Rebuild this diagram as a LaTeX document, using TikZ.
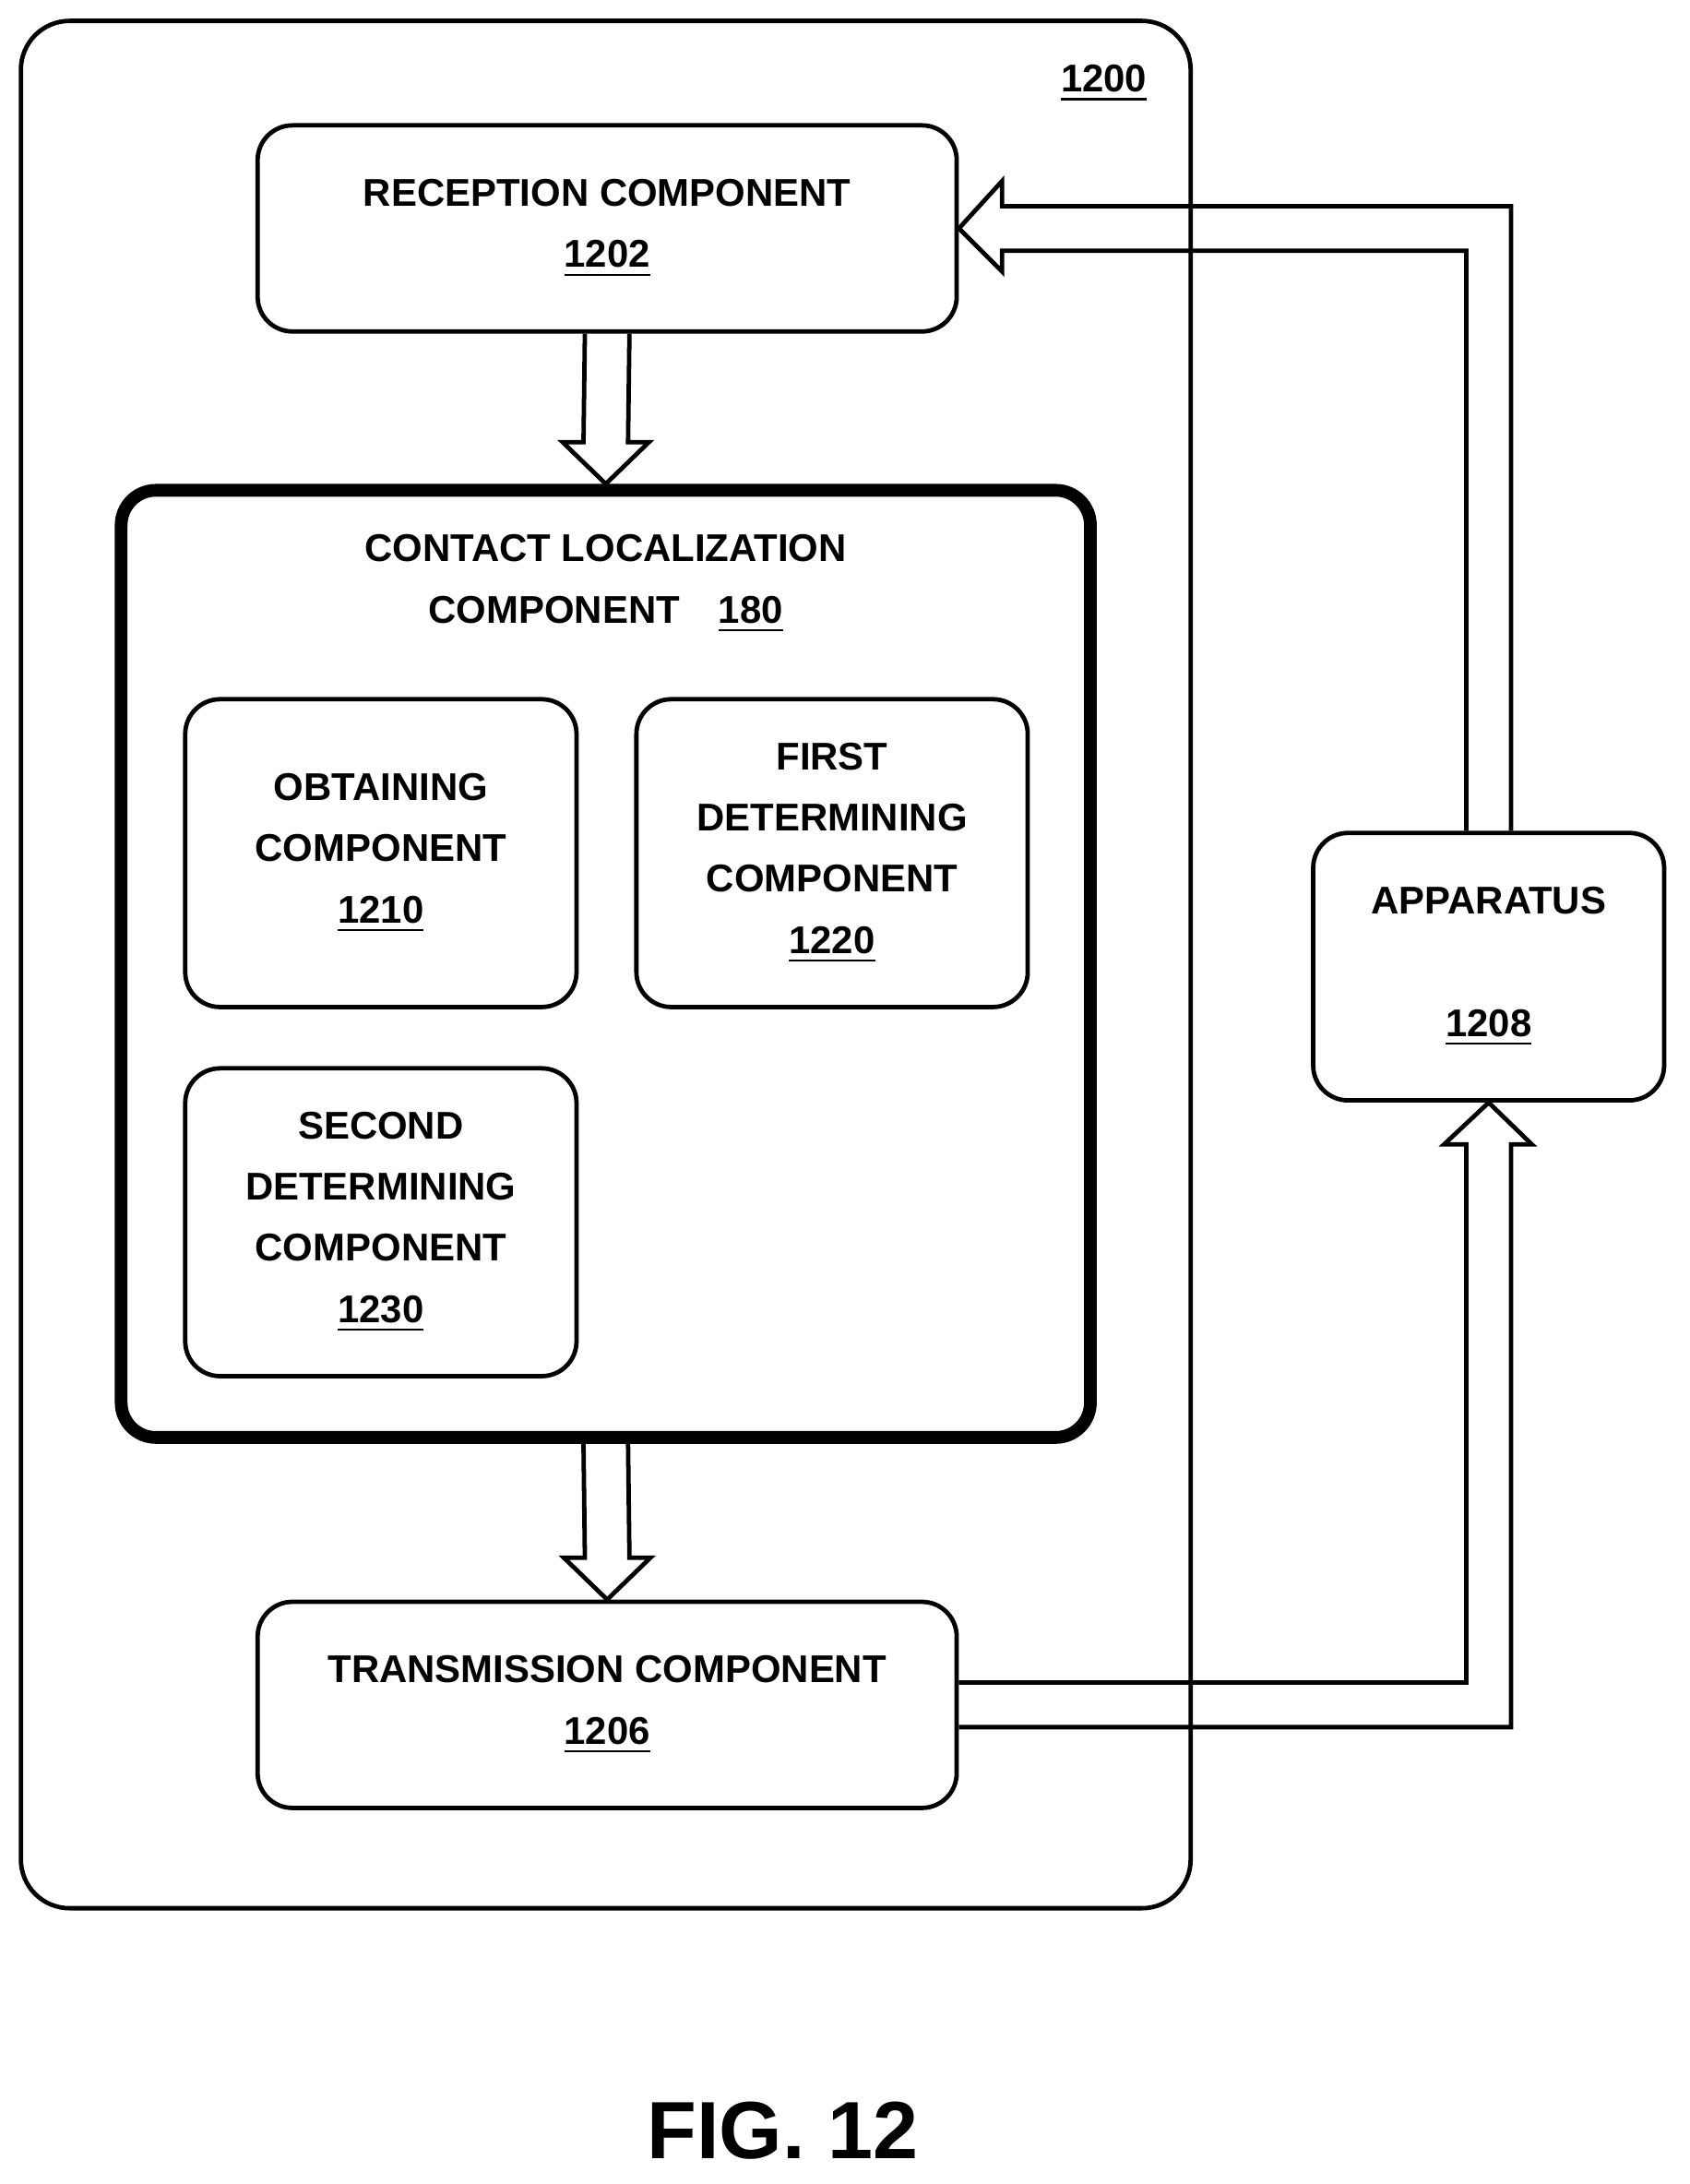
\documentclass[tikz,border=0pt]{standalone}
\usepackage{fontspec}
\setmainfont{Liberation Sans}
\usetikzlibrary{positioning,calc}

\begin{document}
\begin{tikzpicture}[every node/.style={font=\bfseries\fontsize{7.9}{12.5}\selectfont, align=center},
  box/.style={draw, line width=0.9pt, rounded corners=0.25cm},
  hollow/.style={draw, line width=0.9pt, line join=miter}]
            \useasboundingbox (0,0) rectangle (12.13,-15.68);
            % Bloques
            \node[box, rounded corners=0.35cm, minimum width=8.40cm, minimum height=13.55cm] (dev) at (4.35,-6.925) {};
            \node[anchor=east] (devnum) at (8.36,-0.60) {\underline{1200}};
            \node[box, minimum width=5.02cm, minimum height=1.48cm] (rec) at (4.36,-1.64) {RECEPTION COMPONENT\\\underline{1202}};
            \node[box, line width=2.6pt, minimum width=6.96cm, minimum height=6.80cm] (clc) at (4.35,-6.92) {};
            \node[below=0.24 of clc.north] (clctitle) {CONTACT LOCALIZATION\\COMPONENT\quad\underline{180}};
            \node[box, minimum width=2.81cm, minimum height=2.21cm] (obt) at (2.735,-6.125) {OBTAINING\\COMPONENT\\\underline{1210}};
            \node[box, minimum width=2.81cm, minimum height=2.21cm] (fdet) at (5.975,-6.125) {FIRST\\DETERMINING\\COMPONENT\\\underline{1220}};
            \node[box, minimum width=2.81cm, minimum height=2.21cm] (sdet) at (2.735,-8.775) {SECOND\\DETERMINING\\COMPONENT\\\underline{1230}};
            \node[box, minimum width=5.02cm, minimum height=1.48cm] (trn) at (4.36,-12.24) {TRANSMISSION COMPONENT\\\underline{1206}};
            \node[box, minimum width=2.52cm, minimum height=1.92cm] (app) at (10.69,-6.94) {APPARATUS\\[12.5pt]\underline{1208}};
            \node[font=\bfseries\fontsize{16.6}{20}\selectfont] (fig) at (5.62,-15.30) {FIG. 12};

            % Flechas
            \draw[hollow] ($(rec.south)+(-0.16,0)$) -- ($(clc.north)+(-0.16,0.30)$) -- ($(clc.north)+(-0.31,0.30)$) -- (clc.north)
              -- ($(clc.north)+(0.31,0.30)$) -- ($(clc.north)+(0.16,0.30)$) -- ($(rec.south)+(0.16,0)$);
            \draw[hollow] ($(clc.south)+(-0.16,0)$) -- ($(trn.north)+(-0.16,0.30)$) -- ($(trn.north)+(-0.31,0.30)$) -- (trn.north)
              -- ($(trn.north)+(0.31,0.30)$) -- ($(trn.north)+(0.16,0.30)$) -- ($(clc.south)+(0.16,0)$);
            \draw[hollow] ($(trn.east)+(0,0.16)$) -- ($(app.south |- trn.east)+(-0.16,0.16)$) -- ($(app.south)+(-0.16,-0.30)$)
              -- ($(app.south)+(-0.32,-0.30)$) -- (app.south) -- ($(app.south)+(0.31,-0.30)$) -- ($(app.south)+(0.16,-0.30)$)
              -- ($(app.south |- trn.east)+(0.16,-0.16)$) -- ($(trn.east)+(0,-0.16)$);
            \draw[hollow] ($(app.north)+(-0.16,0)$) -- ($(app.north |- rec.east)+(-0.16,-0.16)$) -- ($(rec.east)+(0.31,-0.16)$)
              -- ($(rec.east)+(0.31,-0.31)$) -- (rec.east) -- ($(rec.east)+(0.31,0.34)$) -- ($(rec.east)+(0.31,0.16)$)
              -- ($(app.north |- rec.east)+(0.16,0.16)$) -- ($(app.north)+(0.16,0)$);
          \end{tikzpicture}
\end{document}
